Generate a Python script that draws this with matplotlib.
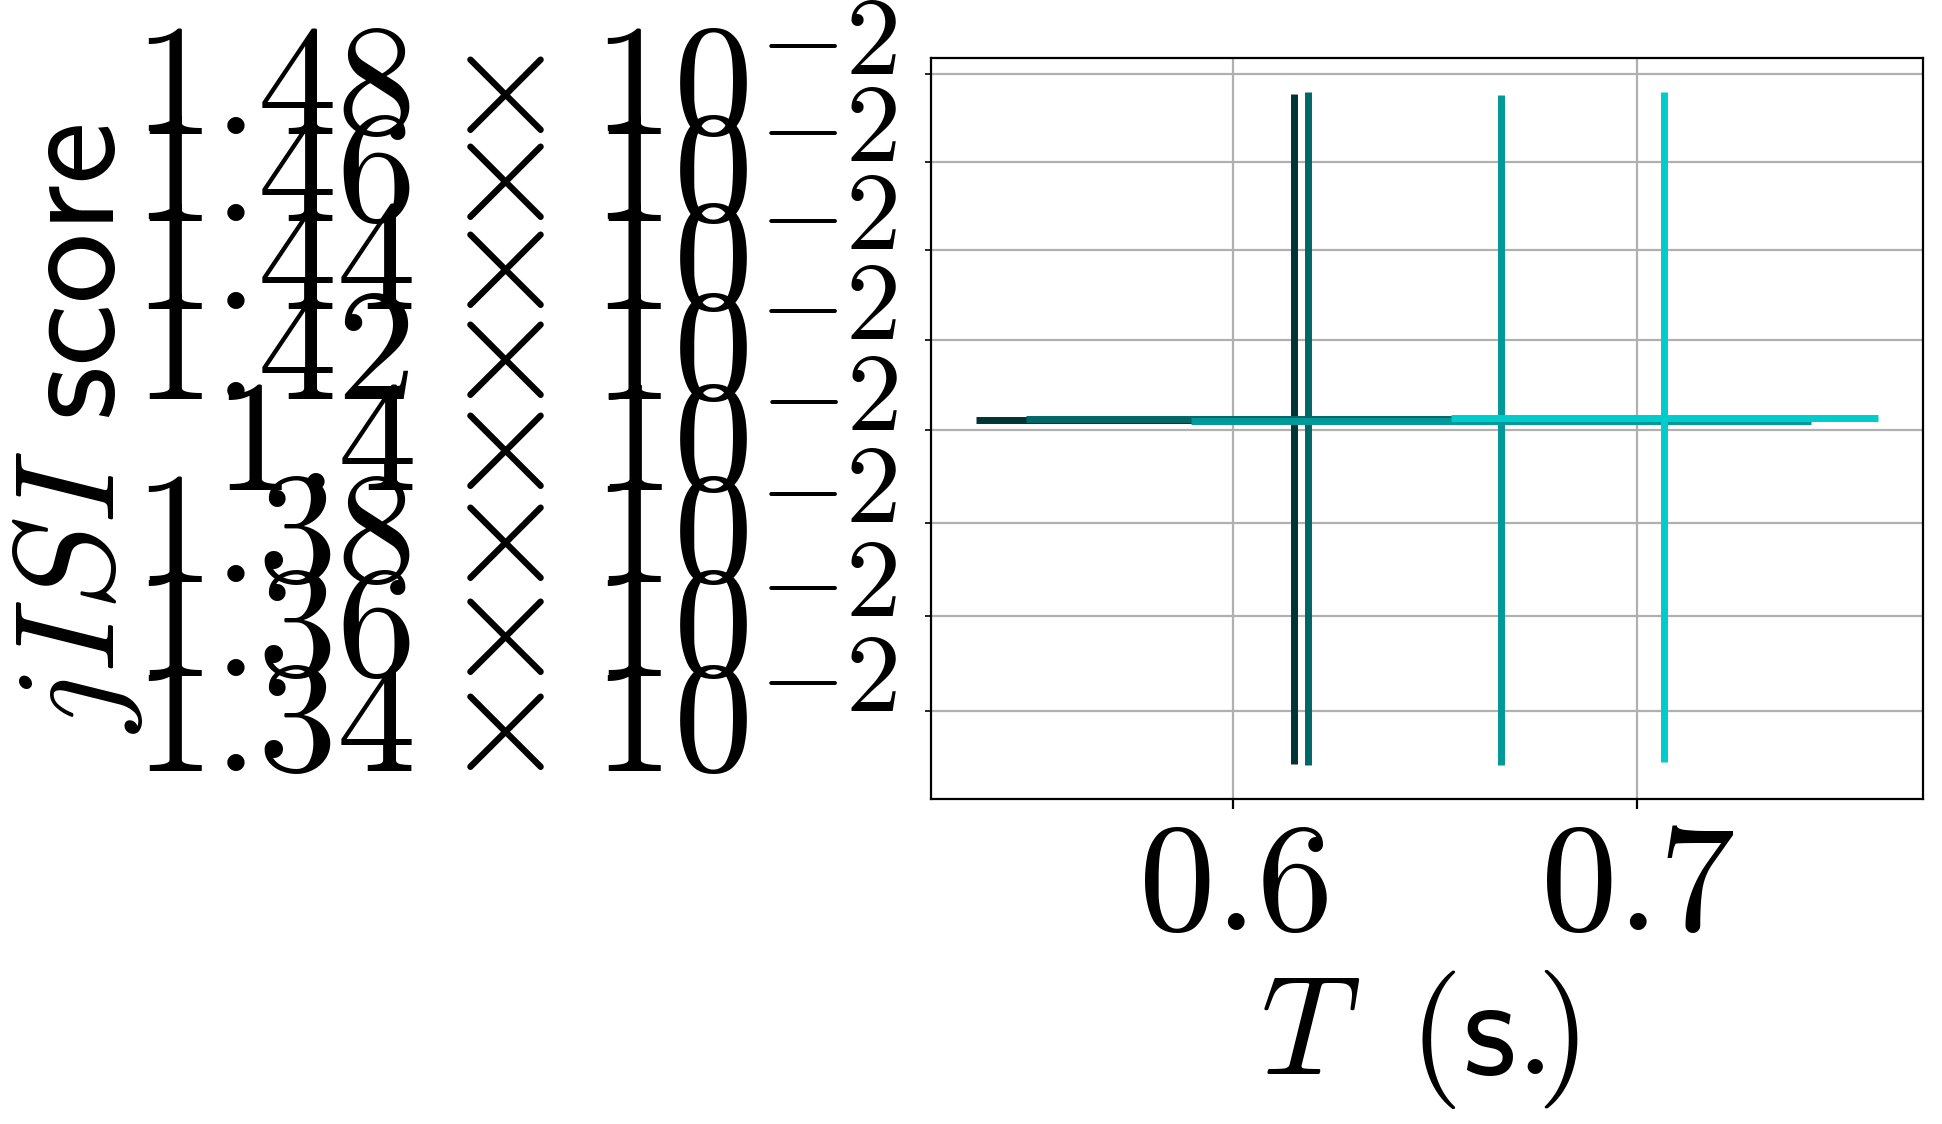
import matplotlib
matplotlib.use("Agg")
import matplotlib.pyplot as plt

# jISI score against period T, one point per setting
T = [0.6151, 0.6186, 0.6663, 0.7067]
T_err = [0.0786, 0.0697, 0.0767, 0.0528]
score = [0.014022, 0.014024, 0.014020, 0.014027]
score_err = [0.000733, 0.000736, 0.000733, 0.000732]
colors = ['#003333', '#006666', '#009999', '#00cccc']

xticks = [0.6, 0.7]
xtick_labels = [r'$0.6$', r'$0.7$']
yticks = [0.0134, 0.0136, 0.0138, 0.0140, 0.0142, 0.0144, 0.0146, 0.0148]
ytick_labels = [r'$1.34\times10^{-2}$', r'$1.36\times10^{-2}$', r'$1.38\times10^{-2}$',
                r'$1.4\times10^{-2}$', r'$1.42\times10^{-2}$', r'$1.44\times10^{-2}$',
                r'$1.46\times10^{-2}$', r'$1.48\times10^{-2}$']

plt.rcParams['mathtext.fontset'] = 'cm'

fig = plt.figure(figsize=(9.71, 5.62), dpi=200)
ax = fig.add_axes([0.4794, 0.2891, 0.5108, 0.6593])

for i in range(len(T)):
    ax.errorbar(T[i], score[i], xerr=T_err[i], yerr=score_err[i],
                fmt='none', ecolor=colors[i], elinewidth=2.5)

ax.set_yscale('log')
ax.set_yticks([])
ax.set_yticks(yticks, ytick_labels, minor=True)
ax.set_xticks(xticks, xtick_labels)
ax.tick_params(axis='x', which='both', labelsize=55, pad=1.7)
ax.tick_params(axis='y', which='both', labelsize=57, pad=10)
ax.grid(True, which='both')
ax.set_axisbelow(True)

ax.set_xlabel(r'$T\ \:(\mathsf{s.}\hspace{-0.35})$', fontsize=50)
ax.set_ylabel(r'$jISI\ \mathsf{score}$', fontsize=51)
ax.xaxis.set_label_coords(0.4925, -0.228)
ax.yaxis.set_label_coords(-0.792, 0.5)

fig.savefig('out.png', dpi=200)
